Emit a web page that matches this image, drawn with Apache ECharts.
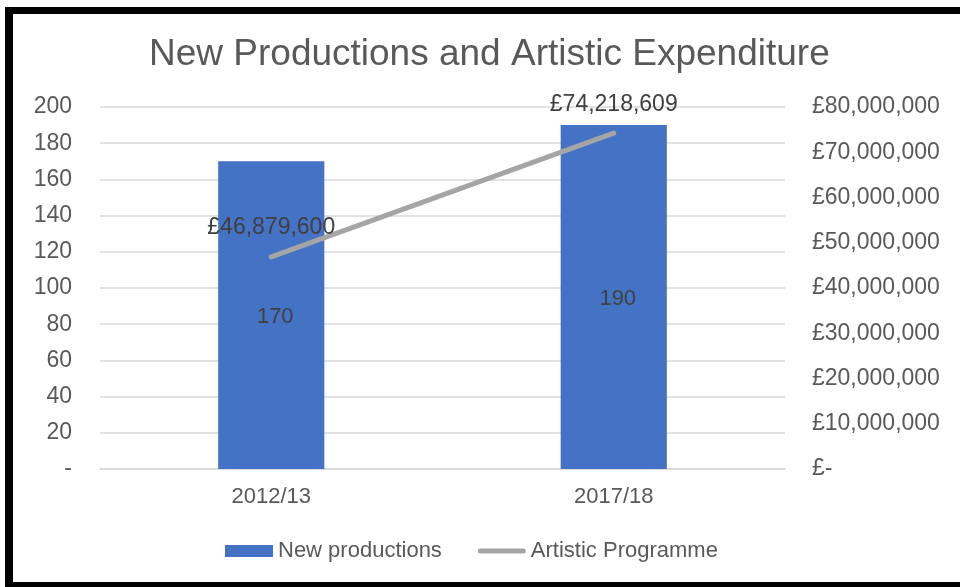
<!DOCTYPE html>
<html>
<head>
<meta charset="utf-8">
<script src="https://cdn.jsdelivr.net/npm/echarts@6/dist/echarts.min.js"></script>
<style>
  html, body { margin: 0; padding: 0; background: #fff; }
  #chart { position: absolute; left: 0; top: 0; width: 960px; height: 587px; }
  .frame { position: absolute; background: #000; pointer-events: none; }
</style>
</head>
<body>
<div id="chart"></div>
<div class="frame" style="left:5px; top:7px; width:955px; height:7px;"></div>
<div class="frame" style="left:5px; top:7px; width:8px; height:580px;"></div>
<div class="frame" style="left:5px; top:582px; width:955px; height:5px;"></div>
<script>
// Financial years shown on the category axis
const years = ['2012/13', '2017/18'];
// Number of new productions per year (left axis)
const newProductions = [170, 190];
// Artistic programme expenditure in pounds (right axis)
const artisticProgramme = [46879600, 74218609];
// Left axis tick values, with zero shown as a dash
const countTicks = [0, 20, 40, 60, 80, 100, 120, 140, 160, 180, 200];

const FONT = '"Liberation Sans", Arial, sans-serif';
const gbp = v => '£' + Math.round(v).toLocaleString('en-GB');

// Thick rounded stroke used as the legend key of the line series
const lineKey = 'path://M0,0 M48,12 M2.5,3.5 L45.5,3.5 A2.5,2.5 0 0 1 45.5,8.5 L2.5,8.5 A2.5,2.5 0 0 1 2.5,3.5 Z';

const chart = echarts.init(document.getElementById('chart'), null, { renderer: 'canvas' });

chart.setOption({
  backgroundColor: '#ffffff',
  animation: false,
  textStyle: { fontFamily: FONT },
  title: {
    text: 'New Productions and Artistic Expenditure',
    left: 144,
    top: 31,
    textStyle: { fontFamily: FONT, fontSize: 37, fontWeight: 'normal', color: '#595959' }
  },
  legend: {
    bottom: 20,
    left: 220,
    itemWidth: 48,
    itemHeight: 12,
    itemGap: 36,
    textStyle: { fontFamily: FONT, fontSize: 22, color: '#595959' },
    data: [
      { name: 'New productions', icon: 'rect' },
      { name: 'Artistic Programme', icon: lineKey }
    ]
  },
  grid: { left: 100, right: 175, top: 107, bottom: 118 },
  xAxis: {
    type: 'category',
    data: years,
    axisTick: { show: false },
    axisLine: { show: true, lineStyle: { color: '#D9D9D9', width: 1.5 } },
    axisLabel: { fontFamily: FONT, fontSize: 22, color: '#595959', margin: 17 }
  },
  yAxis: [
    {
      type: 'value',
      min: countTicks[0],
      max: countTicks[countTicks.length - 1],
      interval: countTicks[1] - countTicks[0],
      axisLine: { show: false },
      axisTick: { show: false },
      splitLine: { lineStyle: { color: '#D9D9D9', width: 1.5 } },
      axisLabel: {
        fontFamily: FONT, fontSize: 23, color: '#595959', margin: 28,
        formatter: v => (v === 0 ? '-' : String(v))
      }
    },
    {
      type: 'value',
      min: 0,
      max: 80000000,
      interval: 10000000,
      position: 'right',
      axisLine: { show: false },
      axisTick: { show: false },
      splitLine: { show: false },
      axisLabel: {
        fontFamily: FONT, fontSize: 23, color: '#595959', margin: 27,
        formatter: v => (v === 0 ? '£-' : gbp(v))
      }
    }
  ],
  series: [
    {
      name: 'New productions',
      type: 'bar',
      data: newProductions,
      yAxisIndex: 0,
      barWidth: '31%',
      itemStyle: { color: '#4472C4' },
      label: {
        show: true,
        position: 'inside',
        offset: [4, 2],
        fontFamily: FONT,
        fontSize: 22,
        color: '#404040'
      }
    },
    {
      name: 'Artistic Programme',
      type: 'line',
      data: artisticProgramme,
      yAxisIndex: 1,
      symbol: 'circle',
      symbolSize: 1,
      showSymbol: true,
      lineStyle: { color: '#A5A5A5', width: 5, cap: 'round' },
      itemStyle: { color: '#A5A5A5' },
      label: {
        show: true,
        position: 'top',
        distance: 17,
        fontFamily: FONT,
        fontSize: 23,
        color: '#404040',
        formatter: p => gbp(p.value)
      },
      z: 3
    }
  ]
});
</script>
</body>
</html>
